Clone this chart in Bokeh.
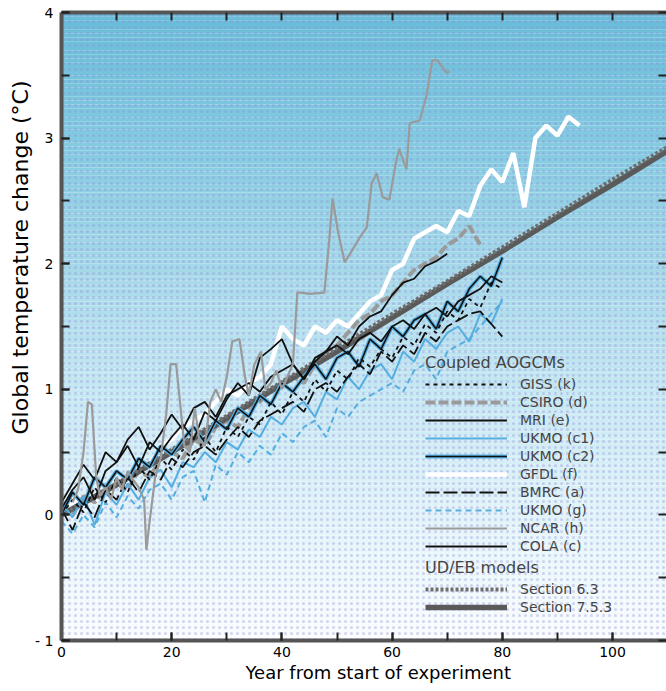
import numpy as np
from bokeh.plotting import figure
from bokeh.models import Range1d, LinearAxis, SingleIntervalTicker, Legend, LegendItem, Title
from bokeh.embed import file_html
from bokeh.resources import INLINE

# ---------------- data ----------------
yrs_80 = list(range(0, 81, 2))
yrs_70 = list(range(0, 71, 2))
yrs_76 = list(range(0, 77, 2))
yrs_94 = list(range(0, 95, 2))
sect_x = [0, 10, 20, 30, 40, 50, 60, 70, 80, 90, 100, 110]

giss = [0.0, 0.12, 0.02, 0.22, 0.1, 0.3, 0.18, 0.38, 0.28, 0.45, 0.36, 0.52, 0.44, 0.62, 0.5, 0.7, 0.62,
        0.78, 0.72, 0.9, 0.8, 0.98, 0.9, 1.08, 0.98, 1.15, 1.08, 1.25, 1.18, 1.32, 1.25, 1.42, 1.35, 1.52,
        1.45, 1.62, 1.55, 1.72, 1.65, 1.85, 1.8]
csiro = [0.05, 0.0, 0.15, 0.1, 0.2, 0.25, 0.2, 0.35, 0.3, 0.45, 0.5, 0.45, 0.6, 0.55, 0.7, 0.75, 0.7, 0.85,
         0.9, 1.0, 1.05, 1.1, 1.05, 1.2, 1.3, 1.35, 1.45, 1.55, 1.6, 1.7, 1.75, 1.85, 1.95, 2.0, 2.05, 2.15,
         2.2, 2.3, 2.15]
mri = [0.05, 0.2, 0.3, 0.12, 0.35, 0.42, 0.55, 0.38, 0.58, 0.5, 0.62, 0.72, 0.6, 0.82, 0.75, 0.92, 1.05,
       0.95, 1.25, 1.32, 1.4, 1.2, 1.08, 1.22, 1.3, 1.42, 1.35, 1.5, 1.58, 1.62, 1.75, 1.85, 1.88, 1.98,
       2.02, 2.08]
ukmo_c1 = [0.1, -0.02, 0.15, -0.08, 0.18, 0.08, 0.25, 0.12, 0.3, 0.36, 0.22, 0.42, 0.38, 0.5, 0.42, 0.58,
           0.52, 0.68, 0.62, 0.78, 0.72, 0.85, 0.9, 0.78, 0.98, 0.92, 1.1, 1.0, 1.15, 1.2, 1.08, 1.3, 1.22,
           1.4, 1.32, 1.45, 1.5, 1.38, 1.6, 1.52, 1.72]
ukmo_c2 = [0.0, 0.18, 0.08, 0.3, 0.22, 0.35, 0.28, 0.45, 0.38, 0.55, 0.48, 0.6, 0.7, 0.58, 0.75, 0.68,
           0.85, 0.78, 0.95, 0.88, 1.05, 0.98, 1.1, 1.2, 1.08, 1.25, 1.3, 1.18, 1.4, 1.32, 1.5, 1.42, 1.55,
           1.6, 1.48, 1.7, 1.62, 1.8, 1.9, 1.82, 2.05]
gfdl = [0.05, 0.1, 0.15, 0.1, 0.2, 0.25, 0.3, 0.35, 0.4, 0.55, 0.6, 0.7, 0.75, 0.8, 0.9, 1.0, 0.95, 1.05,
        1.1, 1.2, 1.5, 1.4, 1.35, 1.5, 1.45, 1.55, 1.5, 1.6, 1.7, 1.75, 1.95, 2.0, 2.2, 2.25, 2.3, 2.25,
        2.42, 2.38, 2.62, 2.75, 2.65, 2.88, 2.45, 3.0, 3.1, 3.02, 3.17, 3.1]
bmrc = [0.05, -0.12, 0.1, -0.02, 0.2, 0.12, 0.3, 0.18, 0.35, 0.28, 0.45, 0.38, 0.5, 0.55, 0.48, 0.6, 0.7,
        0.62, 0.75, 0.8, 0.85, 0.9, 0.82, 1.0, 1.05, 0.98, 1.1, 1.2, 1.12, 1.3, 1.22, 1.35, 1.28, 1.45,
        1.38, 1.5, 1.55, 1.6, 1.62, 1.52, 1.42]
ukmo_g = [-0.05, -0.15, 0.0, -0.1, 0.1, -0.02, 0.15, 0.05, 0.2, 0.25, 0.12, 0.3, 0.35, 0.1, 0.4, 0.32,
          0.5, 0.42, 0.55, 0.48, 0.65, 0.58, 0.7, 0.75, 0.62, 0.85, 0.78, 0.9, 0.95, 1.0, 1.05, 0.98, 1.15,
          1.2, 1.08, 1.3, 1.35, 1.4, 1.5, 1.6, 1.7]
ncar_x = [2, 3, 4, 4.8, 5.5, 6.3, 7, 8, 9, 10, 11, 12, 13, 14, 15, 15.4, 16, 17, 18, 19, 19.8, 20.8, 21.5,
          22.3, 23.3, 24.2, 25, 26, 27, 28, 29, 30, 31, 32.3, 33.3, 34, 35, 36.2, 37, 38, 39, 40, 41, 42,
          42.8, 43.4, 45, 47.7, 48.6, 49.2, 50.2, 51.4, 52.8, 54, 55.4, 56.3, 57.2, 58.3, 59.5, 60.8, 61.3,
          62.6, 63.2, 65, 66.2, 67.3, 68.2, 69.9, 70.4]
ncar = [0.1, 0.2, 0.5, 0.9, 0.88, 0.3, 0.15, 0.22, 0.12, 0.3, 0.2, 0.35, 0.28, 0.22, 0.12, -0.28, -0.05,
        0.3, 0.45, 0.8, 1.2, 1.2, 0.9, 0.55, 0.5, 0.85, 0.6, 0.55, 0.9, 1.0, 0.9, 1.1, 1.38, 1.4, 1.1, 0.95,
        1.2, 1.3, 1.0, 1.05, 1.15, 1.0, 1.1, 1.2, 1.77, 1.77, 1.76, 1.77, 2.19, 2.52, 2.25, 2.01, 2.11, 2.2,
        2.29, 2.64, 2.72, 2.53, 2.51, 2.83, 2.91, 2.75, 3.12, 3.14, 3.33, 3.62, 3.62, 3.52, 3.53]
cola = [0.1, 0.25, 0.4, 0.28, 0.5, 0.42, 0.6, 0.7, 0.52, 0.65, 0.8, 0.68, 0.85, 0.9, 0.78, 0.95, 1.0, 1.05,
        0.98, 1.1, 1.15, 1.2, 1.08, 1.25, 1.3, 1.35, 1.28, 1.4, 1.45, 1.38, 1.5, 1.55, 1.48, 1.6, 1.65, 1.58,
        1.7, 1.75, 1.8, 1.9, 1.85]
sect_63 = [0.0, 0.25, 0.52, 0.79, 1.06, 1.33, 1.6, 1.86, 2.13, 2.4, 2.67, 2.93]
sect_753 = [0.0, 0.24, 0.5, 0.77, 1.04, 1.3, 1.57, 1.84, 2.1, 2.37, 2.63, 2.9]

y_ticks_labels = {4: "4", 3: "3", 2: "2", 1: "1", 0: "0", -1: "- 1"}

X0, X1 = 0, 109.8
Y0, Y1 = -1, 4
FONT = "DejaVu Sans"

p = figure(width=666, height=691, output_backend="svg", toolbar_location=None,
           x_range=Range1d(X0, X1), y_range=Range1d(Y0, Y1),
           min_border_left=61, min_border_right=0, min_border_top=12, min_border_bottom=51)
p.outline_line_color = None
p.xgrid.grid_line_color = None
p.ygrid.grid_line_color = None
p.background_fill_color = "white"

# ---------------- background gradient (style) ----------------
stops_y = np.array([-1.0, 0.0, 1.0, 2.0, 3.0, 4.0])
stops_c = np.array([[250, 253, 254], [226, 244, 249], [198, 232, 242], [164, 216, 232],
                    [130, 202, 224], [104, 188, 216]], dtype=float)
edges = np.linspace(Y0, Y1, 151)
mids = 0.5 * (edges[:-1] + edges[1:])
cols = ["#%02x%02x%02x" % tuple(int(round(np.interp(m, stops_y, stops_c[:, k]))) for k in range(3))
        for m in mids]
p.quad(left=X0, right=X1, bottom=edges[:-1], top=edges[1:], fill_color=cols, line_color=None)
p.quad(left=X0, right=X1, bottom=Y0, top=Y1, fill_alpha=0, line_color=None,
       hatch_pattern="dot", hatch_color="#8c86d8", hatch_alpha=0.35, hatch_scale=6, hatch_weight=1.2)

BLACK = "#111111"
BLUE = "#55aee0"
GRAY = "#9a9a9a"
DARK = "#5a5a5a"

r_gfdl = p.line(yrs_94, gfdl, line_color="white", line_width=4.5)
r_csiro = p.line(yrs_76, csiro, line_color=GRAY, line_width=4, line_dash="10 3")
r_753 = p.line(sect_x, sect_753, line_color=DARK, line_width=5.5)
r_63 = p.line(sect_x, sect_63, line_color="#6e6e6e", line_width=4, line_dash="3 2")
r_ukg = p.line(yrs_80, ukmo_g, line_color=BLUE, line_width=2, line_dash="6 4")
r_uk1 = p.line(yrs_80, ukmo_c1, line_color=BLUE, line_width=2)
r_uk2b = p.line(yrs_80, ukmo_c2, line_color=BLUE, line_width=4)
r_uk2 = p.line(yrs_80, ukmo_c2, line_color=BLACK, line_width=1.6)
r_bmrc = p.line(yrs_80, bmrc, line_color=BLACK, line_width=1.8, line_dash="14 4")
r_giss = p.line(yrs_80, giss, line_color=BLACK, line_width=1.8, line_dash="4 4")
r_cola = p.line(yrs_80, cola, line_color=BLACK, line_width=1.8)
r_mri = p.line(yrs_70, mri, line_color=BLACK, line_width=1.8)
r_ncar = p.line(ncar_x, ncar, line_color=GRAY, line_width=2.2)

# ---------------- axes ----------------
AX = "#555555"
for ax in (p.xaxis[0], p.yaxis[0]):
    ax.axis_line_color = AX
    ax.axis_line_width = 4
    ax.major_tick_in = 8
    ax.major_tick_out = 0
    ax.minor_tick_in = 8
    ax.minor_tick_out = 0
    ax.major_tick_line_color = "#222222"
    ax.minor_tick_line_color = "#222222"
    ax.major_tick_line_width = 2
    ax.minor_tick_line_width = 2
    ax.major_label_text_font = FONT
    ax.major_label_text_font_size = "14px"
    ax.major_label_text_color = "black"

p.xaxis[0].ticker = SingleIntervalTicker(interval=20, num_minor_ticks=2)
p.xaxis[0].major_label_standoff = 6
xtitle = Title(text="Year from start of experiment", align="left", offset=184,
               text_font=FONT, text_font_size="18px", text_font_style="normal",
               text_color="black", standoff=0)
p.add_layout(xtitle, "below")

p.yaxis[0].ticker = SingleIntervalTicker(interval=1, num_minor_ticks=2)
p.yaxis[0].major_label_overrides = y_ticks_labels
p.yaxis[0].major_label_standoff = 8
ytitle = Title(text="Global temperature change (°C)", align="right", offset=68,
               text_font=FONT, text_font_size="22px", text_font_style="normal",
               text_color="black", standoff=0)
p.add_layout(ytitle, "left")

top = LinearAxis(ticker=SingleIntervalTicker(interval=10, num_minor_ticks=0),
                 axis_line_color=AX, axis_line_width=4, major_tick_in=8, major_tick_out=0,
                 major_tick_line_color="#222222", major_tick_line_width=2,
                 minor_tick_line_color=None, major_label_text_font_size="1px",
                 major_label_text_color=None, major_label_standoff=0)
p.add_layout(top, "above")
right = LinearAxis(ticker=SingleIntervalTicker(interval=0.5, num_minor_ticks=0),
                   axis_line_color=None, major_tick_in=8, major_tick_out=0,
                   major_tick_line_color="#222222", major_tick_line_width=2,
                   minor_tick_line_color=None, major_label_text_font_size="1px",
                   major_label_text_color=None, major_label_standoff=0)
p.add_layout(right, "right")

# ---------------- legends ----------------
def style_legend(lg):
    lg.glyph_width = 82
    lg.glyph_height = 16
    lg.label_height = 16
    lg.spacing = 2
    lg.padding = 0
    lg.margin = 0
    lg.label_standoff = 13
    lg.background_fill_alpha = 0
    lg.border_line_color = None
    lg.label_text_font = FONT
    lg.label_text_font_size = "14px"
    lg.title_text_font = FONT
    lg.title_text_font_size = "16px"
    lg.title_text_font_style = "normal"
    lg.title_standoff = 4

leg1 = Legend(items=[
    LegendItem(label="GISS (k)", renderers=[r_giss]),
    LegendItem(label="CSIRO (d)", renderers=[r_csiro]),
    LegendItem(label="MRI (e)", renderers=[r_mri]),
    LegendItem(label="UKMO (c1)", renderers=[r_uk1]),
    LegendItem(label="UKMO (c2)", renderers=[r_uk2b, r_uk2]),
    LegendItem(label="GFDL (f)", renderers=[r_gfdl]),
    LegendItem(label="BMRC (a)", renderers=[r_bmrc]),
    LegendItem(label="UKMO (g)", renderers=[r_ukg]),
    LegendItem(label="NCAR (h)", renderers=[r_ncar]),
    LegendItem(label="COLA (c)", renderers=[r_cola]),
], title="Coupled AOGCMs", location=(364, 86))
style_legend(leg1)
leg2 = Legend(items=[
    LegendItem(label="Section 6.3", renderers=[r_63]),
    LegendItem(label="Section 7.5.3", renderers=[r_753]),
], title="UD/EB models", location=(364, 25))
style_legend(leg2)
p.add_layout(leg1)
p.add_layout(leg2)

open("out.html", "w").write(file_html(p, INLINE))
